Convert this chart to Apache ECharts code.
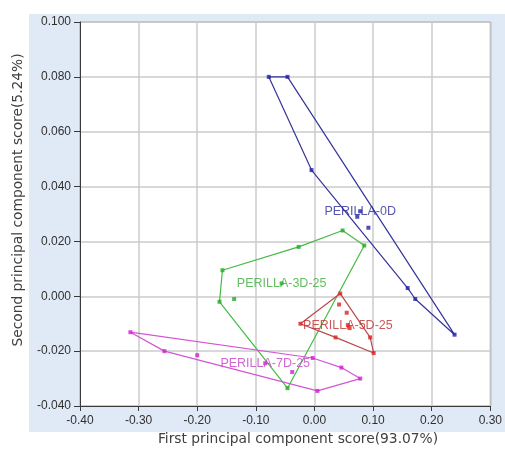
<!DOCTYPE html>
<html><head><meta charset="utf-8">
<script src="https://cdn.jsdelivr.net/npm/echarts@6/dist/echarts.min.js"></script>
<style>html,body{margin:0;padding:0;background:#fff}#c{width:505px;height:450px}</style>
</head><body><div id="c"></div><script>
// ---- data ----
const groupNames = ['PERILLA-0D', 'PERILLA-3D-25', 'PERILLA-5D-25', 'PERILLA-7D-25'];
const pts0D = [[-0.078,0.080],[-0.046,0.080],[-0.005,0.046],[0.073,0.029],[0.092,0.025],[0.159,0.003],[0.172,-0.001],[0.239,-0.014]];
const center0D = [0.078,0.031];
const hull0D = [0,1,7,6,5,2,0];
const pts3D = [[-0.157,0.0095],[-0.162,-0.002],[-0.137,-0.001],[-0.027,0.018],[0.048,0.024],[0.085,0.0185],[-0.046,-0.0335]];
const center3D = [-0.056,0.0047];
const hull3D = [1,0,3,4,5,6,1];
const pts5D = [[0.044,0.001],[0.042,-0.003],[0.055,-0.006],[-0.024,-0.010],[0.060,-0.0116],[0.036,-0.015],[0.095,-0.015],[0.101,-0.0207]];
const center5D = [0.057,-0.0105];
const hull5D = [3,0,6,7,5,3];
const pts7D = [[-0.314,-0.0131],[-0.256,-0.020],[-0.200,-0.0215],[-0.038,-0.0276],[-0.003,-0.0225],[0.046,-0.026],[0.078,-0.030],[0.005,-0.0345]];
const center7D = [-0.084,-0.0244];
const hull7D = [0,4,5,6,7,1,0];
const xTicks = [-0.40,-0.30,-0.20,-0.10,0.00,0.10,0.20,0.30];
const yTicks = [-0.040,-0.020,0.000,0.020,0.040,0.060,0.080,0.100];
const xTitle = 'First principal component score(93.07%)';
const yTitle = 'Second principal component score(5.24%)';

// ---- styles ----
const lineColors = ['#34349e','#44bb44','#b84a4a','#d455d4'];
const dotColors  = ['#2020a8','#22aa22','#e02020','#d020d0'];
const labelColors= ['#2c2c98','#3aac3a','#c02e2e','#c840c8'];
const groups = [
  [pts0D, center0D, hull0D],
  [pts3D, center3D, hull3D],
  [pts5D, center5D, hull5D],
  [pts7D, center7D, hull7D]
];

const series = [];
groups.forEach((g, i) => {
  const [pts, ctr, hull] = g;
  series.push({
    type: 'line', name: groupNames[i] + ' hull',
    data: hull.map(k => pts[k]), showSymbol: false, symbol: 'none',
    lineStyle: { color: lineColors[i], width: 1.2 }, silent: true, z: 3, animation: false
  });
  series.push({
    type: 'scatter', name: groupNames[i],
    data: pts, symbol: 'rect', symbolSize: 4,
    itemStyle: { color: dotColors[i] }, z: 4, animation: false
  });
  series.push({
    type: 'scatter', name: groupNames[i] + ' label',
    data: [ctr], symbol: 'rect', symbolSize: 4,
    itemStyle: { color: dotColors[i] }, z: 5, animation: false,
    label: { show: true, position: 'inside', formatter: groupNames[i],
      color: labelColors[i], fontSize: 12.5, fontFamily: 'Liberation Sans, Arial, sans-serif' }
  });
});

const chart = echarts.init(document.getElementById('c'), null, { renderer: 'canvas' });
chart.setOption({
  backgroundColor: '#ffffff',
  animation: false,
  graphic: [
    { type: 'rect', z: -100, shape: { x: 29, y: 14, width: 476, height: 418 }, style: { fill: '#e0eaf6' } },
    { type: 'text', x: 298, y: 439, style: { text: xTitle, fill: '#404040', align: 'center', verticalAlign: 'middle',
      font: '13.8px "DejaVu Sans", sans-serif' } },
    { type: 'text', rotation: Math.PI / 2, x: 18, y: 200, style: { text: yTitle, fill: '#404040', align: 'center', verticalAlign: 'middle',
      font: '13.8px "DejaVu Sans", sans-serif' } }
  ],
  grid: { left: 80, right: 14, top: 22, bottom: 44, show: true, backgroundColor: '#ffffff', borderColor: '#8a8a8a', borderWidth: 1 },
  xAxis: {
    type: 'value', min: xTicks[0], max: xTicks[xTicks.length - 1], interval: 0.1,
    axisLine: { show: true, onZero: false, lineStyle: { color: '#3a3a3a', width: 1 } },
    axisTick: { show: true, length: 5, lineStyle: { color: '#3a3a3a' } },
    axisLabel: { margin: 9, color: '#303030', fontSize: 12, fontFamily: 'Liberation Sans, Arial, sans-serif',
      formatter: v => v.toFixed(2) },
    splitLine: { show: true, lineStyle: { color: '#cbcbcb', width: 1.5 } }
  },
  yAxis: {
    type: 'value', min: yTicks[0], max: yTicks[yTicks.length - 1], interval: 0.02,
    axisLine: { show: true, onZero: false, lineStyle: { color: '#3a3a3a', width: 1 } },
    axisTick: { show: true, length: 6, lineStyle: { color: '#3a3a3a' } },
    axisLabel: { margin: 9, color: '#303030', fontSize: 12, fontFamily: 'Liberation Sans, Arial, sans-serif',
      formatter: v => v.toFixed(3) },
    splitLine: { show: true, lineStyle: { color: '#cbcbcb', width: 1.5 } }
  },
  series: series
});
</script></body></html>
